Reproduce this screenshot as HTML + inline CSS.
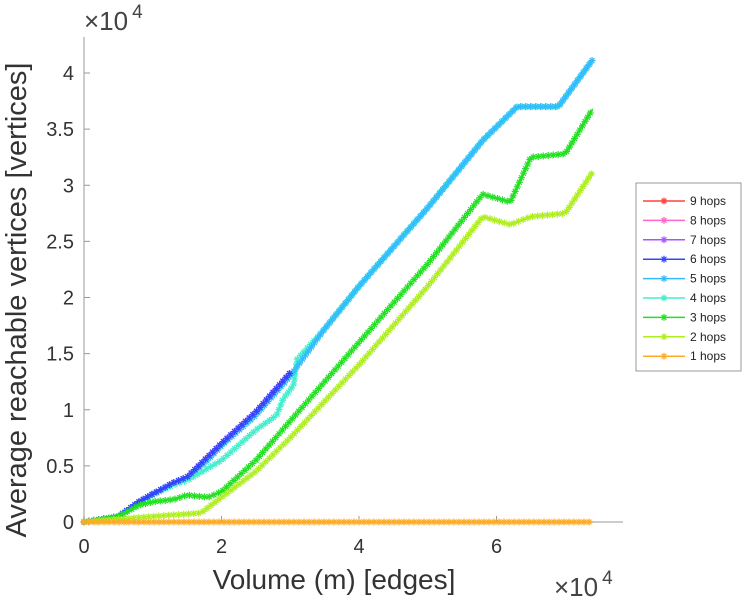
<!DOCTYPE html>
<html><head><meta charset="utf-8"><style>
body{margin:0;background:#fff;width:747px;height:600px;overflow:hidden}
svg{font-family:"Liberation Sans",sans-serif}
</style></head><body>
<svg id="chart" width="747" height="600" viewBox="0 0 747 600" xmlns="http://www.w3.org/2000/svg">
<g id="axes"></g>
<g id="series"></g>
<g id="legend"></g>
</svg>
<script>
// data in units of 1e4
const xTicks=[0,2,4,6];
const xTickLabels=["0","2","4","6"];
const yTicks=[0,0.5,1,1.5,2,2.5,3,3.5,4];
const yTickLabels=["0","0.5","1","1.5","2","2.5","3","3.5","4"];
const seriesNames=["9 hops","8 hops","7 hops","6 hops","5 hops","4 hops","3 hops","2 hops","1 hops"];
const seriesColors=["#ff4040","#ff66cc","#aa55ff","#3344ff","#33bbff","#44eecc","#22e022","#b0ee22","#ffaa22"];
const hop9X=[0,0.5,0.8,1.0,1.3,1.5,1.8,2.0,2.5,3.0];
const hop9Y=[0,0.05,0.18,0.25,0.35,0.4,0.58,0.7,0.98,1.33];
const hop5X=[0,0.5,0.8,1.0,1.3,1.5,1.8,2.0,2.5,3.0,3.5,4.0,5.0,5.8,6.3,6.9,7.4];
const hop5Y=[0,0.05,0.18,0.25,0.35,0.4,0.55,0.68,0.95,1.3,1.72,2.1,2.8,3.4,3.7,3.7,4.12];
const hop4X=[0,0.5,0.8,1.0,1.3,1.5,2.0,2.5,2.8,2.9,3.05,3.1,3.5,4.0,5.0,5.8,6.3,6.9,7.4];
const hop4Y=[0,0.05,0.17,0.24,0.33,0.37,0.55,0.82,0.95,1.1,1.22,1.45,1.72,2.1,2.8,3.4,3.7,3.7,4.12];
const hop3X=[0,0.5,0.8,1.0,1.3,1.5,1.8,2.0,2.5,3.0,4.0,5.0,5.8,6.2,6.5,7.0,7.4];
const hop3Y=[0,0.05,0.15,0.18,0.2,0.24,0.22,0.27,0.55,0.9,1.6,2.3,2.92,2.85,3.25,3.28,3.68];
const hop2X=[0,1.0,1.7,2.0,2.5,3.0,4.0,5.0,5.8,6.2,6.5,7.0,7.4];
const hop2Y=[0,0.05,0.08,0.22,0.45,0.75,1.4,2.1,2.72,2.65,2.72,2.75,3.12];
const hop1X=[0,7.4];
const hop1Y=[0,0];
const seriesX=[hop9X,hop9X,hop9X,hop9X,hop5X,hop4X,hop3X,hop2X,hop1X];
const seriesY=[hop9Y,hop9Y,hop9Y,hop9Y,hop5Y,hop4Y,hop3Y,hop2Y,hop1Y];
const drawOrder=[0,1,2,5,4,3,6,7,8];

const X0=84,XPX=68.75,Y0=522,YPX=112.25;
const sx=v=>X0+v*XPX, sy=v=>Y0-v*YPX;
const NS="http://www.w3.org/2000/svg";
function mk(t,a,p){const e=document.createElementNS(NS,t);for(const k in a)e.setAttribute(k,a[k]);p.appendChild(e);return e;}
const axes=document.getElementById('axes');
let e=mk('line',{x1:84,y1:37,x2:84,y2:522,stroke:'#bbb','stroke-width':1.5},axes);


e=mk('line',{x1:84,y1:522,x2:623,y2:522,stroke:'#bbb','stroke-width':1.5},axes);


xTicks.forEach((t,i)=>{
 mk('line',{x1:sx(t),y1:522,x2:sx(t),y2:516,stroke:'#999'},axes);
 const tx=mk('text',{x:sx(t),y:553,'text-anchor':'middle','font-size':20,fill:'#333'},axes);
 tx.textContent=xTickLabels[i];
 
 
});
yTicks.forEach((t,i)=>{
 mk('line',{x1:84,y1:sy(t),x2:90,y2:sy(t),stroke:'#999'},axes);
 const tx=mk('text',{x:74,y:sy(t)+7,'text-anchor':'end','font-size':20,fill:'#333'},axes);
 tx.textContent=yTickLabels[i];
 
 
});
function expLabel(x,y,name){const t=mk('text',{x:x,y:y,'font-size':26,fill:'#444'},axes);t.innerHTML='×10<tspan dy="-12" font-size="19" dx="4">4</tspan>';}
expLabel(84,30,'y-exponent-label');
expLabel(554,596,'x-exponent-label');
e=mk('text',{x:334,y:589,'text-anchor':'middle','font-size':28,fill:'#333'},axes);
e.textContent='Volume (m) [edges]';


e=mk('text',{x:0,y:0,'text-anchor':'middle','font-size':29,fill:'#333',transform:'translate(26,300) rotate(-90)'},axes);
e.textContent='Average reachable vertices [vertices]';



function star(g,x,y,c,s){
 mk('path',{d:`M${x-s} ${y}H${x+s}M${x} ${y-s}V${y+s}M${x-s*.7} ${y-s*.7}L${x+s*.7} ${y+s*.7}M${x-s*.7} ${y+s*.7}L${x+s*.7} ${y-s*.7}`,stroke:c,'stroke-width':1.2,fill:'none'},g);
}
const sg=document.getElementById('series');
drawOrder.forEach(i=>{
 const g=mk('g',{},sg);
 
 
 const X=seriesX[i],Y=seriesY[i];
 const pts=X.map((v,k)=>[sx(v),sy(Y[k])]);
 mk('polyline',{points:pts.map(p=>p.join(',')).join(' '),fill:'none',stroke:seriesColors[i],'stroke-width':1.5},g);
 let acc=0;
 for(let k=1;k<pts.length;k++){
  const [ax,ay]=pts[k-1],[bx,by]=pts[k];const L=Math.hypot(bx-ax,by-ay);
  while(acc<=L){const f=acc/L;star(g,ax+(bx-ax)*f,ay+(by-ay)*f,seriesColors[i],3.5);acc+=5;}
  acc-=L;
 }
});
const lg=document.getElementById('legend');
mk('rect',{x:636,y:183,width:105,height:188,fill:'#fff',stroke:'#999'},lg);
seriesNames.forEach((n,i)=>{
 const y=201+i*19.4;
 const g=mk('g',{},lg);
 
 
 mk('line',{x1:643,y1:y,x2:685,y2:y,stroke:seriesColors[i],'stroke-width':1.5},g);
 star(g,664,y,seriesColors[i],3.5);
 const t=mk('text',{x:690,y:y+4,'font-size':12,fill:'#222'},g);
 t.textContent=n;
});
</script>
</body></html>
